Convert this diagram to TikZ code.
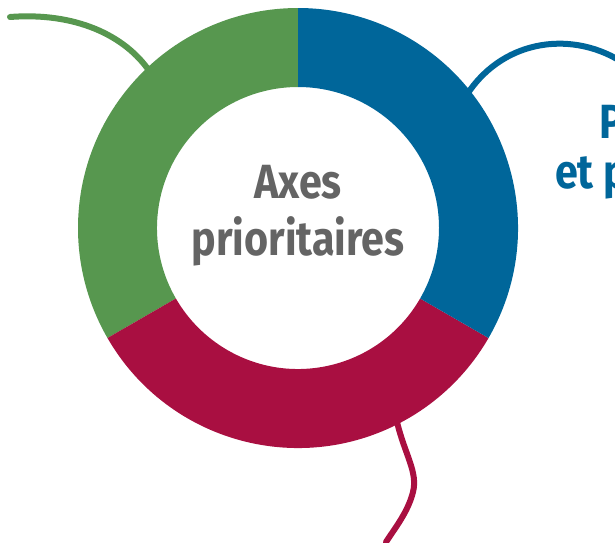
\documentclass[tikz,border=0pt]{standalone}
\usepackage{fontspec}
\newfontfamily\axesfont[FakeStretch=0.86]{Fira Sans}
\usetikzlibrary{positioning}
\definecolor{axegreen}{HTML}{57974F}
\definecolor{axeblue}{HTML}{00669A}
\definecolor{axered}{HTML}{A90F41}
\definecolor{axegray}{HTML}{646464}

\begin{document}
\begin{tikzpicture}[x=1pt, y=-1pt,
    % Styles
    titre/.style={text=axegray, align=center, inner sep=0pt,
                  font=\axesfont\bfseries\fontsize{48}{57}\selectfont},
    etiquette/.style={text=axeblue, anchor=base west, inner sep=0pt,
                      font=\axesfont\bfseries\fontsize{48}{57}\selectfont},
    lien/.style={line width=6pt, line cap=round}
]
\clip (0,0) rectangle (615,542);

% Anneau
\begin{scope}[shift={(298,228)}, yscale=-1]
    \fill[axegreen] (90:220) arc[start angle=90, end angle=210, radius=220]
        -- (210:141) arc[start angle=210, end angle=90, radius=141] -- cycle;
    \fill[axered] (210:220) arc[start angle=210, end angle=330, radius=220]
        -- (330:141) arc[start angle=330, end angle=210, radius=141] -- cycle;
    \fill[axeblue] (330:220) arc[start angle=330, end angle=450, radius=220]
        -- (450:141) arc[start angle=450, end angle=330, radius=141] -- cycle;
\end{scope}

% Titre central
\node[titre] (axes) at (298,216) {Axes\\prioritaires};

% Textes coupés à droite
\node[etiquette] (axeP) at (599,138) {P};
\node[etiquette] (axeEt) at (555,188) {et p};

% Liens
\coordinate (vertA) at (10,17);
\coordinate (vertB) at (150,72);
\coordinate (bleuA) at (468,93);
\coordinate (bleuB) at (625,64);
\coordinate (rougeA) at (397,422);
\coordinate (rougeM) at (413,492);
\coordinate (rougeB) at (386,542);

\draw[lien, axegreen] (vertA) .. controls (75,12) and (125,35) .. (vertB);
\draw[lien, axeblue] (bleuA) .. controls (505,38) and (575,30) .. (bleuB);
\draw[lien, axered] (rougeA) .. controls (405,455) and (418,472) .. (rougeM)
    .. controls (408,512) and (395,528) .. (rougeB);

\end{tikzpicture}
\end{document}
